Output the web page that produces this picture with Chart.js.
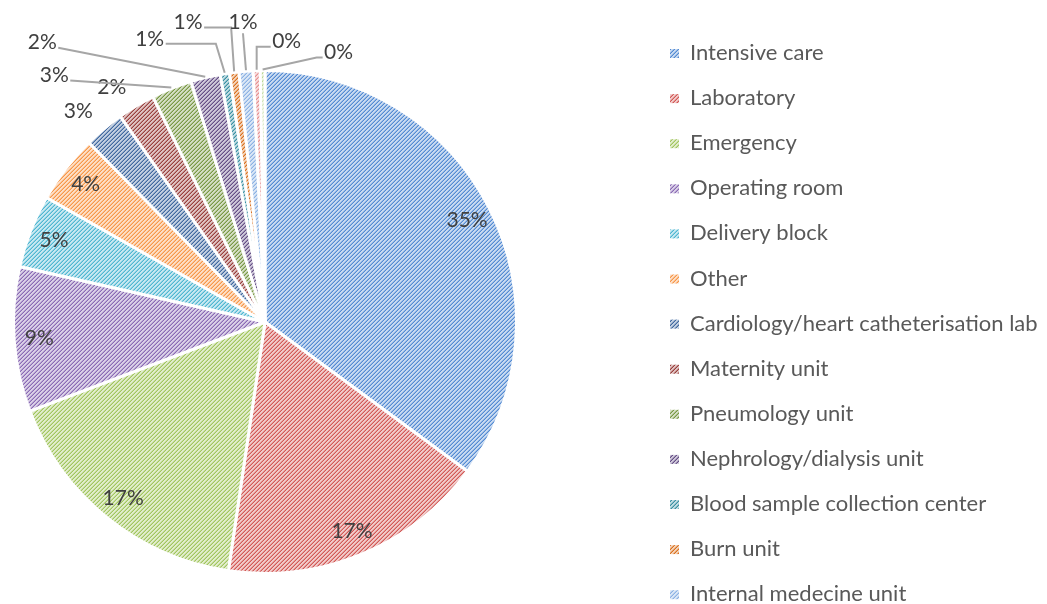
<!DOCTYPE html>
<html>
<head>
<meta charset="utf-8">
<script src="https://cdn.jsdelivr.net/npm/chart.js@4.4.1/dist/chart.umd.min.js"></script>
<style>
  body { margin: 0; background: #fff; }
  #wrap { width: 1047px; height: 604px; position: relative; }
</style>
</head>
<body>
<div id="wrap"><canvas id="myChart"></canvas></div>
<script>
'use strict';

// data (share of answers, %)
let units = ['Intensive care', 'Laboratory', 'Emergency', 'Operating room', 'Delivery block', 'Other',
    'Cardiology/heart catheterisation lab', 'Maternity unit', 'Pneumology unit', 'Nephrology/dialysis unit',
    'Blood sample collection center', 'Burn unit', 'Internal medecine unit', '', ''];
let shares = [35.1, 17.2, 16.9, 9.3, 4.7, 4.4, 2.6, 2.4, 2.6, 1.9, 0.6, 0.6, 0.9, 0.45, 0.3];
let colors = ['#4A84D0', '#D0504D', '#9CC255', '#8462B0', '#45B2CF', '#F7913E',
    '#36609A', '#943633', '#72923A', '#5E4680', '#2F8A9E', '#D86A14',
    '#86AEE2', '#E4898A', '#B5D38E'];

// where the small slices put their labels (offset from the slice's outer middle)
let outside = {
    6: { dx: -25, dy: -17 },
    7: { dx: -24, dy: -18 },
    8: { dx: -117, dy: -12, line: true, k: 0 },
    9: { dx: -163, dy: -34, line: true, k: 0 },
    10: { dx: -75, dy: -34, line: true, k: 0.85 },
    11: { dx: -46, dy: -49, line: true, k: 0.9 },
    12: { dx: -3, dy: -48, line: true },
    13: { dx: 30, dy: -28, line: true, k: 1 },
    14: { dx: 76, dy: -17, line: true, k: 0.1 }
};

function hatch(color) {
    let c = document.createElement('canvas');
    c.width = 4;
    c.height = 4;
    let g = c.getContext('2d');
    g.fillStyle = '#fff';
    g.fillRect(0, 0, 4, 4);
    g.fillStyle = color;
    for (let y = 0; y < 4; y++) {
        for (let x = 0; x < 4; x++) {
            let s = (x + y) % 4;
            g.globalAlpha = s === 3 ? 0.95 : (s === 2 ? 0.6 : 0.3);
            g.fillRect(x, y, 1, 1);
        }
    }
    return g.createPattern(c, 'repeat');
}
let fills = colors.map(hatch);

const pieLabels = {
    id: 'pieLabels',
    afterDatasetsDraw(chart) {
        let ctx = chart.ctx;
        let arcs = chart.getDatasetMeta(0).data;
        let total = shares.reduce((a, b) => a + b, 0);
        ctx.save();
        ctx.font = '21px Lato';
        ctx.textAlign = 'center';
        ctx.textBaseline = 'middle';
        arcs.forEach((arc, i) => {
            let txt = Math.round(shares[i] / total * 100) + '%';
            let mid = (arc.startAngle + arc.endAngle) / 2;
            let lay = outside[i];
            if (!lay) {
                let r = arc.outerRadius * 0.9;
                ctx.fillStyle = '#404040';
                ctx.fillText(txt, arc.x + Math.cos(mid) * r, arc.y + Math.sin(mid) * r);
                return;
            }
            let px = arc.x + Math.cos(mid) * (arc.outerRadius + 1);
            let py = arc.y + Math.sin(mid) * (arc.outerRadius + 1);
            let lx = px + lay.dx;
            let ly = py + lay.dy;
            if (lay.line) {
                let ex, ey;
                if (lay.dx < -15) { ex = lx + 16; ey = ly + 5; }
                else if (lay.dx > 15) { ex = lx - 16; ey = ly + 5; }
                else { ex = lx; ey = ly + 11; }
                let kx = ex + (px - ex) * (lay.k || 0);
                ctx.strokeStyle = '#A6A6A6';
                ctx.lineWidth = 2;
                ctx.beginPath();
                ctx.moveTo(ex, ey);
                ctx.lineTo(kx, ey);
                ctx.lineTo(px, py);
                ctx.stroke();
            }
            ctx.fillStyle = '#404040';
            ctx.fillText(txt, lx, ly);
        });
        ctx.restore();
    }
};

const sideLegend = {
    id: 'sideLegend',
    afterDraw(chart) {
        let ctx = chart.ctx;
        ctx.save();
        ctx.font = '22px Lato';
        ctx.textAlign = 'left';
        ctx.textBaseline = 'middle';
        for (let i = 0; i < units.length; i++) {
            let y = 53 + i * 45.1;
            ctx.fillStyle = fills[i];
            ctx.fillRect(670, y - 4, 9, 9);
            ctx.fillStyle = '#595959';
            ctx.fillText(units[i], 690, y);
        }
        ctx.restore();
    }
};

let ctx = document.getElementById('myChart').getContext('2d');
let myChart = new Chart(ctx, {
    type: 'pie',
    data: {
        labels: units,
        datasets: [{
            data: shares,
            backgroundColor: fills,
            borderColor: '#fff',
            borderWidth: 3
        }]
    },
    options: {
        responsive: true,
        maintainAspectRatio: false,
        animation: false,
        layout: { padding: { left: 12, top: 69, right: 529, bottom: 29 } },
        plugins: {
            legend: { display: false },
            tooltip: { enabled: false }
        }
    },
    plugins: [pieLabels, sideLegend]
});
</script>
</body>
</html>
